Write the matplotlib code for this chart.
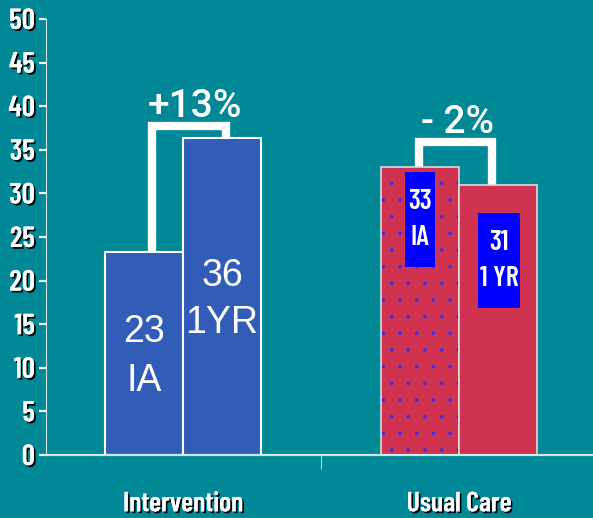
import matplotlib.pyplot as plt
import matplotlib.patheffects as pe
from matplotlib.patches import Rectangle

plt.rcParams['hatch.linewidth'] = 0.2

groups = ['Intervention', 'Usual Care']
ia_vals = [23.3, 33.0]
yr_vals = [36.4, 31.0]
ia_text = ['23\nIA', '33\nIA']
yr_text = ['36\n1YR', '31\n1 YR']
changes = ['+13%', '- 2%']
yticks = list(range(0, 51, 5))

BG = '#008896'
BLUE = '#315DB8'
RED = '#D0334F'

shadow = [pe.withSimplePatchShadow(offset=(1.3, -1.3), shadow_rgbFace='black', alpha=1.0), pe.Normal()]
narrow = dict(family=['Barlow Condensed', 'DejaVu Sans'], fontweight=600)

fig = plt.figure(figsize=(5.93, 5.18), dpi=100)
fig.patch.set_facecolor(BG)
ax = fig.add_axes([46 / 593, 63 / 518, 1 - 46 / 593, 436 / 518])
ax.set_facecolor(BG)
ax.set_xlim(-0.496, 1.486)
ax.set_ylim(0, 50)

w = 0.283
x = [0, 1]

# intervention bars (blue), usual care (red, IA dotted)
ax.bar(x[0] - w / 2, ia_vals[0], w, color=BLUE, edgecolor='white', linewidth=1.5, zorder=3)
ax.bar(x[0] + w / 2, yr_vals[0], w, color=BLUE, edgecolor='white', linewidth=1.5, zorder=3)
ax.bar(x[1] - w / 2, ia_vals[1], w, color=RED, edgecolor='none', zorder=3)
ax.bar(x[1] - w / 2, ia_vals[1], w, color='none', edgecolor='#3030f0', hatch='.', linewidth=0, zorder=3)
ax.bar(x[1] - w / 2, ia_vals[1], w, color='none', edgecolor='#dddddd', linewidth=1.2, zorder=3)
ax.bar(x[1] + w / 2, yr_vals[1], w, color=RED, edgecolor='#dddddd', linewidth=1.2, zorder=3)

# brackets + percent change
brk = [(-0.112, 0.156, 37.7, 0.022), (0.855, 1.12, 35.9, 0.006)]
for i, (xl, xr, top, dx) in enumerate(brk):
    ax.plot([xl, xl, xr, xr], [ia_vals[i], top, top, yr_vals[i]], color='white', lw=6,
            solid_joinstyle='miter', solid_capstyle='butt', zorder=2)
    ax.text((xl + xr) / 2 + dx, top + 1.05, changes[i], color='white', fontsize=28,
            family='Roboto', fontweight='medium', ha='center', va='baseline')

# big labels in intervention bars
ax.text(x[0] - w / 2, 11.3, ia_text[0], color='white', fontsize=27,
        ha='center', va='center', family='Liberation Sans', linespacing=1.45, zorder=4)
ax.text(x[0] + w / 2, 17.8, yr_text[0], color='white', fontsize=27,
        ha='center', va='center', family='Liberation Sans', linespacing=1.4, zorder=4)

# blue boxes in usual care bars
boxes = [(0.804, 0.913, 21.56, 32.45), (1.069, 1.221, 16.86, 27.75)]
box_txt = [ia_text[1], yr_text[1]]
for (x0, x1, y0, y1), t in zip(boxes, box_txt):
    ax.add_patch(Rectangle((x0, y0), x1 - x0, y1 - y0, facecolor='#0000FF', edgecolor='none', zorder=4))
    ax.text((x0 + x1) / 2, (y0 + y1) / 2, t, color='white', fontsize=20,
            ha='center', va='center', linespacing=1.55, zorder=5, **narrow)

# axes styling
for s in ['top', 'right']:
    ax.spines[s].set_visible(False)
ax.spines['left'].set_color('#d0e0e0')
ax.spines['left'].set_linewidth(0.8)
ax.spines['bottom'].set_color('#cfe8e8')
ax.spines['bottom'].set_linewidth(1.5)
ax.spines['bottom'].set_path_effects(shadow)
ax.spines['bottom'].set_zorder(5)

ax.set_yticks(yticks)
ax.set_yticklabels([str(v) for v in yticks], fontsize=21, color='white', **narrow)
for lab in ax.get_yticklabels():
    lab.set_path_effects(shadow)
ax.tick_params(axis='y', direction='out', length=5, width=1.5, color='white', pad=3)
for tl in ax.yaxis.get_ticklines():
    tl.set_path_effects(shadow)

ax.set_xticks([0.5])
ax.set_xticklabels([''])
ax.tick_params(axis='x', direction='out', length=10, width=0.8, color='#cccccc')

for xi, g in zip(x, groups):
    ax.text(xi, -5.6, g, color='white', fontsize=20, ha='center', va='center',
            path_effects=shadow, clip_on=False, **narrow)

plt.savefig('out.png', dpi=100, facecolor=BG)
plt.close()
